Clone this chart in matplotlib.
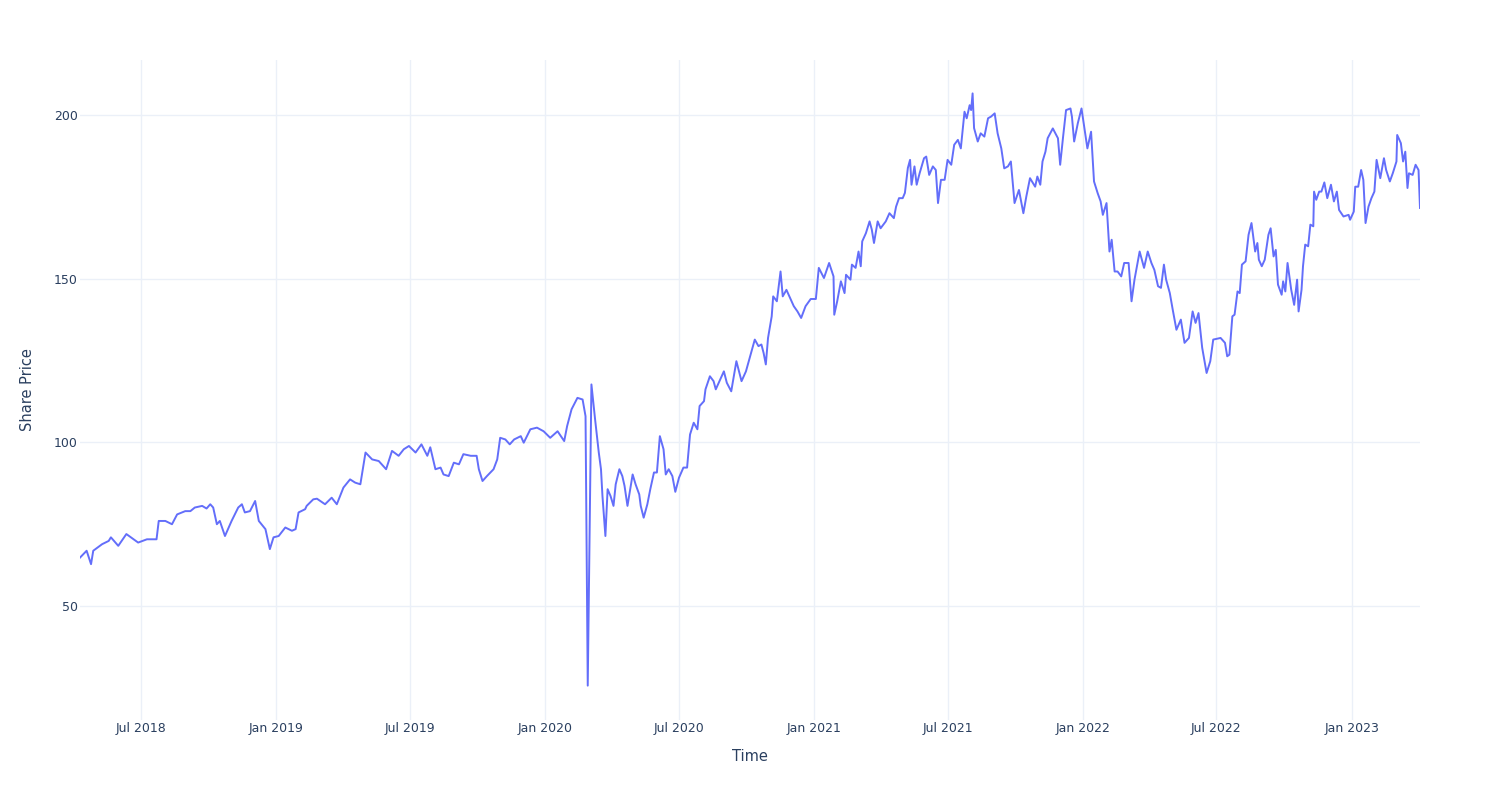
import pandas as pd
import matplotlib
matplotlib.use("Agg")
from matplotlib import pyplot as plt
import matplotlib.dates as mdates

# days counted from the first trading day in the chart
startDate = "2018-04-09"
days = [0, 9, 15, 18, 30, 39, 42, 52, 63, 73, 79, 91, 100, 104, 107, 116, 125, 132, 143, 150,
        156, 166, 172, 177, 181, 186, 190, 197, 202, 206, 215, 220, 224, 231, 238, 243, 252, 258, 263, 270,
        279, 288, 293, 297, 306, 308, 317, 322, 333, 342, 349, 358, 367, 374, 381, 388, 397, 406, 416, 424,
        433, 440, 447, 456, 464, 472, 476, 483, 490, 494, 501, 508, 515, 521, 531, 539, 542, 547, 553, 562,
        567, 571, 578, 584, 590, 599, 603, 612, 621, 630, 639, 649, 658, 662, 668, 676, 683, 687, 690, 695,
        700, 705, 708, 710, 714, 717, 721, 725, 728, 733, 737, 740, 744, 751, 755, 760, 762, 766, 771, 775,
        780, 784, 788, 793, 796, 800, 805, 809, 814, 820, 825, 829, 834, 839, 842, 848, 850, 856, 861, 864,
        871, 875, 879, 885, 892, 899, 905, 912, 917, 922, 926, 929, 932, 935, 940, 942, 947, 952, 955, 960,
        965, 970, 975, 980, 986, 993, 1000, 1004, 1011, 1018, 1024, 1025, 1029, 1034, 1039, 1041, 1047, 1049, 1054, 1058,
        1061, 1063, 1068, 1073, 1076, 1079, 1084, 1088, 1095, 1100, 1106, 1109, 1113, 1118, 1121, 1125, 1128, 1130, 1134, 1137,
        1141, 1147, 1150, 1154, 1159, 1163, 1166, 1170, 1175, 1179, 1184, 1188, 1193, 1197, 1202, 1205, 1209, 1211, 1213, 1215,
        1220, 1224, 1229, 1234, 1238, 1243, 1247, 1252, 1256, 1261, 1265, 1270, 1276, 1282, 1286, 1291, 1298, 1301, 1305, 1308,
        1312, 1315, 1322, 1329, 1332, 1336, 1340, 1346, 1348, 1351, 1356, 1361, 1366, 1369, 1374, 1378, 1383, 1387, 1390, 1395,
        1399, 1402, 1406, 1410, 1415, 1419, 1425, 1429, 1433, 1440, 1446, 1451, 1456, 1460, 1465, 1469, 1473, 1476, 1481, 1485,
        1490, 1496, 1501, 1507, 1512, 1516, 1520, 1525, 1531, 1536, 1540, 1550, 1556, 1559, 1562, 1566, 1569, 1573, 1576, 1579,
        1584, 1588, 1592, 1597, 1600, 1602, 1606, 1610, 1615, 1618, 1622, 1625, 1628, 1633, 1635, 1638, 1641, 1646, 1650, 1654,
        1656, 1660, 1662, 1665, 1669, 1672, 1676, 1677, 1680, 1684, 1687, 1691, 1695, 1700, 1704, 1708, 1711, 1717, 1724, 1726,
        1731, 1733, 1737, 1741, 1744, 1747, 1751, 1755, 1759, 1762, 1767, 1772, 1775, 1780, 1784, 1789, 1790, 1795, 1798, 1801,
        1804, 1806, 1811, 1815, 1819, 1821]

price = [64.8, 66.9, 62.8, 66.9, 68.9, 69.9, 71.0, 68.4, 72.0, 70.4, 69.4, 70.4, 70.4, 70.4, 76.0, 76.0, 75.0, 78.0, 79.0, 79.0,
         80.1, 80.6, 79.8, 81.1, 80.1, 75.0, 76.0, 71.4, 74.0, 76.0, 80.1, 81.1, 78.6, 79.0, 82.1, 76.0, 73.5, 67.4, 71.0, 71.4,
         74.0, 73.0, 73.5, 78.6, 79.6, 80.6, 82.6, 82.8, 81.1, 83.1, 81.1, 86.2, 88.7, 87.7, 87.2, 96.9, 94.8, 94.3, 91.8, 97.4,
         95.9, 97.9, 98.9, 96.9, 99.4, 95.9, 98.5, 91.8, 92.3, 90.2, 89.7, 93.8, 93.3, 96.4, 95.9, 95.9, 91.8, 88.2, 89.7, 91.8,
         94.8, 101.4, 100.9, 99.4, 100.9, 101.9, 99.9, 104.0, 104.5, 103.4, 101.4, 103.4, 100.4, 105.0, 110.1, 113.6, 113.1, 108.0, 25.7, 117.7,
         107.0, 96.9, 91.8, 83.6, 71.4, 85.7, 83.6, 80.6, 87.2, 91.8, 89.7, 86.7, 80.6, 90.2, 87.2, 84.1, 80.6, 77.0, 81.1, 85.7,
         90.8, 90.8, 101.9, 97.9, 90.2, 91.8, 89.7, 84.9, 89.2, 92.3, 92.3, 102.4, 106.0, 104.0, 111.1, 112.6, 116.2, 120.2, 118.7, 116.2,
         119.7, 121.7, 118.2, 115.6, 124.8, 118.7, 121.7, 127.3, 131.4, 129.4, 129.9, 127.3, 123.8, 131.9, 138.5, 144.6, 143.1, 152.2, 144.6, 146.6,
         144.1, 141.6, 140.0, 138.0, 141.6, 143.8, 143.8, 153.3, 150.2, 154.8, 150.7, 139.0, 143.1, 149.2, 145.6, 151.2, 149.7, 154.3, 153.3, 158.3,
         153.8, 161.4, 163.9, 167.5, 165.0, 160.9, 167.5, 165.4, 167.5, 170.0, 168.5, 172.0, 174.6, 174.6, 176.2, 183.8, 186.3, 178.7, 184.3, 178.7,
         182.2, 186.8, 187.3, 181.7, 184.3, 183.2, 173.1, 180.2, 180.2, 186.3, 184.8, 190.9, 192.4, 189.8, 201.0, 199.0, 203.0, 201.5, 206.6, 196.0,
         191.9, 194.4, 193.4, 199.0, 199.5, 200.5, 194.4, 189.8, 183.7, 184.3, 185.8, 173.1, 177.1, 170.0, 175.1, 180.7, 178.1, 181.2, 178.7, 185.8,
         188.8, 192.9, 195.9, 192.9, 184.8, 193.4, 201.5, 202.0, 199.5, 191.9, 197.5, 202.0, 194.4, 189.8, 194.9, 179.7, 176.1, 173.6, 169.5, 173.1,
         158.3, 161.9, 152.2, 152.2, 150.7, 154.8, 154.8, 143.1, 149.7, 158.3, 153.3, 158.3, 154.8, 152.7, 147.7, 147.2, 154.3, 149.7, 145.6, 140.5,
         134.4, 137.5, 130.4, 131.9, 140.0, 136.5, 139.5, 128.9, 121.2, 124.8, 131.4, 131.9, 130.4, 126.3, 126.8, 138.5, 139.0, 146.1, 145.6, 154.3,
         155.3, 163.4, 167.0, 158.3, 160.9, 155.8, 153.8, 155.8, 163.4, 165.4, 156.8, 158.8, 148.2, 145.1, 149.2, 146.1, 154.8, 146.6, 142.0, 149.7,
         140.0, 146.6, 153.8, 160.4, 159.9, 166.5, 166.0, 176.6, 174.1, 176.6, 176.6, 179.4, 174.6, 178.7, 173.6, 176.6, 171.0, 169.0, 169.5, 168.0,
         170.5, 178.1, 178.1, 183.2, 180.2, 167.0, 172.0, 174.6, 176.6, 186.3, 180.7, 186.8, 183.2, 179.7, 182.2, 185.8, 193.9, 191.4, 185.8, 188.8,
         177.7, 182.2, 181.7, 184.8, 183.2, 171.6]

yTicks = [50, 100, 150, 200]

dates = pd.Timestamp(startDate) + pd.to_timedelta(days, unit="D")

textColor = "#2a3f5f"
gridColor = "#EBF0F8"

fig = plt.figure(figsize=(15, 8), dpi=100)
ax = fig.add_axes([80 / 1500, 80 / 800, 1340 / 1500, 660 / 800])

ax.plot(dates, price, color="#636EFA", linewidth=1.4, zorder=3)

ax.set_xlim(dates[0], dates[-1])
ax.set_ylim(15.2, 216.8)

ax.xaxis.set_major_locator(mdates.MonthLocator(bymonth=[1, 7]))
ax.xaxis.set_major_formatter(mdates.DateFormatter("%b %Y"))
ax.set_yticks(yTicks)

ax.grid(True, color=gridColor, linewidth=1.0, zorder=0)
ax.set_axisbelow(True)
for side in ["top", "right", "bottom", "left"]:
    ax.spines[side].set_visible(False)

ax.tick_params(axis="both", length=0, labelsize=9, labelcolor=textColor)
ax.tick_params(axis="x", pad=1.5)
ax.tick_params(axis="y", pad=1.5)

ax.set_xlabel("Time", fontsize=10.5, color=textColor, labelpad=9.8)
ax.set_ylabel("Share Price", fontsize=10.5, color=textColor, labelpad=13.7)

fig.savefig("out.png", dpi=100, facecolor="white")
